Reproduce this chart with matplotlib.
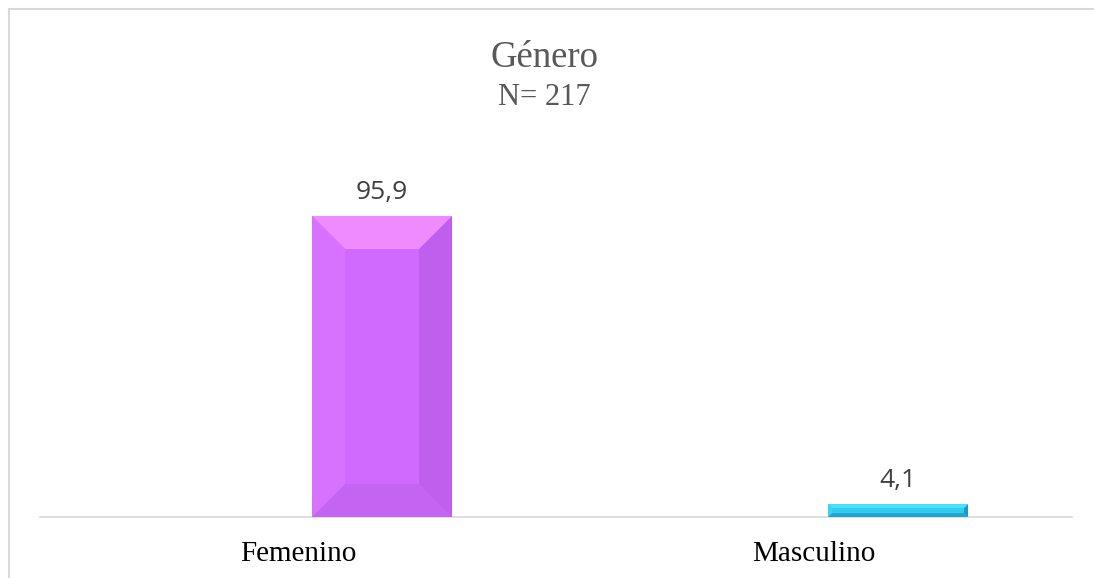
import matplotlib
matplotlib.use("Agg")
import matplotlib.pyplot as plt
from matplotlib.patches import Polygon
from matplotlib.lines import Line2D

categories = ["Femenino", "Masculino"]
values = [95.9, 4.1]
value_labels = ["95,9", "4,1"]
title = "Género"
subtitle = "N= 217"

# styles
main_colors = ["#D06AFF", "#30CDF0"]
top_colors = ["#EE8BFF", "#4FE0FF"]
bottom_colors = ["#C563F3", "#1EA6D0"]
left_colors = ["#D672FF", "#38D3F5"]
right_colors = ["#C05EEE", "#2099C2"]

W, H, DPI = 1094, 578, 100
fig = plt.figure(figsize=(W / DPI, H / DPI), dpi=DPI)
ax = fig.add_axes([40 / W, 1 - 517 / H, (1072 - 40) / W, (517 - 150) / H])

offset = 0.163
width = 0.271
xs = [i + offset for i in range(len(categories))]
bars = ax.bar(xs, values, width=width, color=main_colors, linewidth=0, zorder=2)

ax.set_xlim(-0.5, 1.5)
ax.set_ylim(0, 116.93)

# bevel decoration derived from the bar geometry
fig.canvas.draw()
to_px = ax.transData
inv = ax.transData.inverted()
bevel = 33
for i, b in enumerate(bars):
    x0, y0 = b.get_x(), 0
    x1, y1 = b.get_x() + b.get_width(), b.get_height()
    (px0, py0) = to_px.transform((x0, y0))
    (px1, py1) = to_px.transform((x1, y1))
    if (py1 - py0) < 2 * bevel:
        ix0, ix1 = px0 + 4, px1 - 4
        iy0, iy1 = py0 + (py1 - py0) * 0.3, py1 - (py1 - py0) * 0.3
    else:
        ix0, ix1 = px0 + bevel, px1 - bevel
        iy0, iy1 = py0 + bevel, py1 - bevel

    def P(pts):
        return [inv.transform(p) for p in pts]
    ax.add_patch(Polygon(P([(px0, py0), (ix0, iy0), (ix0, iy1), (px0, py1)]),
                         closed=True, color=left_colors[i], lw=0, zorder=3))
    ax.add_patch(Polygon(P([(px1, py0), (ix1, iy0), (ix1, iy1), (px1, py1)]),
                         closed=True, color=right_colors[i], lw=0, zorder=3))
    ax.add_patch(Polygon(P([(px0, py1), (ix0, iy1), (ix1, iy1), (px1, py1)]),
                         closed=True, color=top_colors[i], lw=0, zorder=3))
    ax.add_patch(Polygon(P([(px0, py0), (ix0, iy0), (ix1, iy0), (px1, py0)]),
                         closed=True, color=bottom_colors[i], lw=0, zorder=3))

for x, v, lab in zip(xs, values, value_labels):
    ax.annotate(lab, (x, v), xytext=(0, 12.2), textcoords="offset points",
                ha="center", va="baseline", fontsize=19, color="#404040",
                family="Open Sans")

for s in ["top", "right", "left"]:
    ax.spines[s].set_visible(False)
ax.spines["bottom"].set_color("#D9D9D9")
ax.spines["bottom"].set_linewidth(1.2)
ax.spines["bottom"].set_zorder(1)
ax.set_yticks([])
ax.set_xticks(range(len(categories)))
ax.set_xticklabels(categories, fontsize=21, family="Liberation Serif", color="black")
ax.tick_params(axis="x", length=0, pad=17)

fig.text(544 / W, 1 - 67 / H, title, ha="center", va="baseline",
         fontsize=26.5, family="Liberation Serif", color="#595959")
fig.text(544 / W, 1 - 105 / H, subtitle, ha="center", va="baseline",
         fontsize=22, family="Liberation Serif", color="#595959")

# chart frame (cropped at right and bottom)
fig.add_artist(Line2D([8.5 / W, 1.0], [1 - 8.5 / H, 1 - 8.5 / H], transform=fig.transFigure,
                      color="#D9D9D9", lw=1.5))
fig.add_artist(Line2D([8.5 / W, 8.5 / W], [0, 1 - 8.5 / H], transform=fig.transFigure,
                      color="#D9D9D9", lw=1.5))

fig.savefig("out.png", dpi=DPI, facecolor="white")
